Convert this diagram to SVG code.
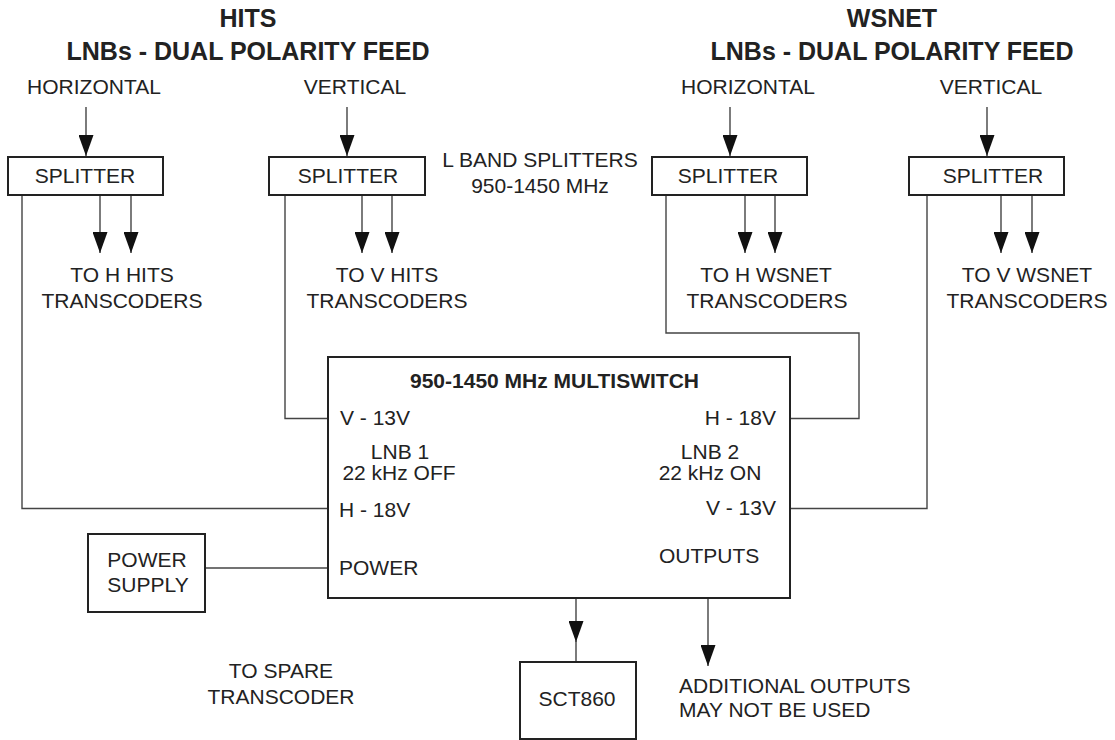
<svg xmlns="http://www.w3.org/2000/svg" width="1115" height="740" viewBox="0 0 1115 740">
<style>
text{font-family:"Liberation Sans",Arial,sans-serif;font-size:21px;fill:#222}
.t{font-weight:bold;font-size:25px;text-anchor:middle}
.b{font-weight:bold}
.m{text-anchor:middle}
.e{text-anchor:end}
.box{fill:#fff;stroke:#222;stroke-width:2}
.ln{fill:none;stroke:#444;stroke-width:1.4}
</style>
<defs>
<marker id="ah" viewBox="0 0 15 21" refX="7.5" refY="21" markerWidth="15" markerHeight="21" markerUnits="userSpaceOnUse" orient="auto-start-reverse">
<path d="M0,0 L15,0 L7.5,21 Z" fill="#111"/>
</marker>
<marker id="av" viewBox="0 0 21 15" refX="21" refY="7.5" markerWidth="21" markerHeight="15" markerUnits="userSpaceOnUse" orient="auto">
<path d="M0,0 L21,7.5 L0,15 Z" fill="#111"/>
</marker>
</defs>
<g id="titles">
<text class="t" x="248" y="27">HITS</text>
<text class="t" x="248" y="60">LNBs - DUAL POLARITY FEED</text>
<text class="t" x="892" y="27">WSNET</text>
<text class="t" x="892" y="60">LNBs - DUAL POLARITY FEED</text>
<text class="m" x="94" y="94">HORIZONTAL</text>
<text class="m" x="355" y="94">VERTICAL</text>
<text class="m" x="748" y="94">HORIZONTAL</text>
<text class="m" x="991" y="94">VERTICAL</text>
<text class="m" x="540" y="167">L BAND SPLITTERS</text>
<text class="m" x="540" y="193">950-1450 MHz</text>
<text class="m" x="122" y="282">TO H HITS</text>
<text class="m" x="122" y="308">TRANSCODERS</text>
<text class="m" x="387" y="282">TO V HITS</text>
<text class="m" x="387" y="308">TRANSCODERS</text>
<text class="m" x="766" y="282">TO H WSNET</text>
<text class="m" x="767" y="308">TRANSCODERS</text>
<text class="m" x="1027" y="282">TO V WSNET</text>
<text class="m" x="1027" y="308">TRANSCODERS</text>
<text class="m" x="281" y="678">TO SPARE</text>
<text class="m" x="281" y="704">TRANSCODER</text>
<text x="679" y="693">ADDITIONAL OUTPUTS</text>
<text x="679" y="717">MAY NOT BE USED</text>
</g>
<g id="splitter1"><rect class="box" x="8" y="157" width="155" height="38"/><text class="m" x="85" y="183">SPLITTER</text></g>
<g id="splitter2"><rect class="box" x="269" y="157" width="156" height="38"/><text class="m" x="348" y="183">SPLITTER</text></g>
<g id="splitter3"><rect class="box" x="652" y="157" width="155" height="38"/><text class="m" x="728" y="183">SPLITTER</text></g>
<g id="splitter4"><rect class="box" x="909" y="157" width="155" height="38"/><text class="m" x="993" y="183">SPLITTER</text></g>
<g id="multiswitch">
<rect class="box" x="328" y="357" width="462" height="241"/>
<text class="b" x="410" y="388">950-1450 MHz MULTISWITCH</text>
<text x="340" y="425">V - 13V</text>
<text class="m" x="400" y="459">LNB 1</text>
<text class="m" x="399" y="480">22 kHz OFF</text>
<text x="339" y="517">H - 18V</text>
<text x="339" y="575">POWER</text>
<text class="e" x="776" y="425">H - 18V</text>
<text class="m" x="710" y="459">LNB 2</text>
<text class="m" x="710" y="480">22 kHz ON</text>
<text class="e" x="776" y="515">V - 13V</text>
<text x="659" y="563">OUTPUTS</text>
</g>
<g id="powersupply"><rect class="box" x="88" y="534" width="117" height="78"/><text class="m" x="147" y="567">POWER</text><text class="m" x="148" y="592">SUPPLY</text></g>
<g id="sct860"><rect class="box" x="520" y="662" width="116" height="77"/><text class="m" x="577" y="706">SCT860</text></g>
<g id="connectors">
<line class="ln" x1="86" y1="107" x2="86" y2="156" marker-end="url(#av)"/>
<line class="ln" x1="347" y1="107" x2="347" y2="156" marker-end="url(#av)"/>
<line class="ln" x1="730" y1="107" x2="730" y2="156" marker-end="url(#av)"/>
<line class="ln" x1="987" y1="107" x2="987" y2="156" marker-end="url(#av)"/>
<line class="ln" x1="100" y1="196" x2="100" y2="253" marker-end="url(#av)"/>
<line class="ln" x1="131" y1="196" x2="131" y2="253" marker-end="url(#av)"/>
<line class="ln" x1="362" y1="196" x2="362" y2="253" marker-end="url(#av)"/>
<line class="ln" x1="392" y1="196" x2="392" y2="253" marker-end="url(#av)"/>
<line class="ln" x1="745" y1="196" x2="745" y2="253" marker-end="url(#av)"/>
<line class="ln" x1="775" y1="196" x2="775" y2="253" marker-end="url(#av)"/>
<line class="ln" x1="1001" y1="196" x2="1001" y2="253" marker-end="url(#av)"/>
<line class="ln" x1="1032" y1="196" x2="1032" y2="253" marker-end="url(#av)"/>
<polyline class="ln" points="22,196 22,508.5 327,508.5"/>
<polyline class="ln" points="285,196 285,418.5 327,418.5"/>
<polyline class="ln" points="666,196 666,333 859,333 859,418.5 791,418.5"/>
<polyline class="ln" points="927,196 927,508.5 791,508.5"/>
<line class="ln" x1="206" y1="568" x2="327" y2="568"/>
<line class="ln" x1="576" y1="599" x2="576" y2="642" marker-end="url(#av)"/>
<line class="ln" x1="576" y1="640" x2="576" y2="661"/>
<line class="ln" x1="708" y1="599" x2="708" y2="666" marker-end="url(#av)"/>
</g>
</svg>
